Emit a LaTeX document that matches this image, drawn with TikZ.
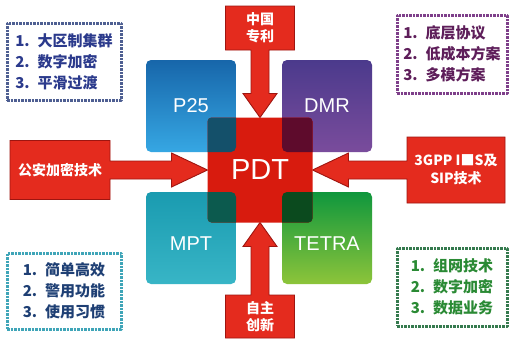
\documentclass[tikz,border=0pt]{standalone}
\usepackage{fontspec}
\setmainfont{Liberation Sans}
\newfontfamily\cjk{Noto Sans CJK SC}
\usepackage{xcolor}
\usetikzlibrary{calc}
\definecolor{ptop}{HTML}{1766AA}
\definecolor{pbot}{HTML}{36A7E3}
\definecolor{dtop}{HTML}{4B3A8C}
\definecolor{dbot}{HTML}{7A4C9C}
\definecolor{mtop}{HTML}{1A9BB0}
\definecolor{mbot}{HTML}{38B5C6}
\definecolor{ttop}{HTML}{0F973D}
\definecolor{tbot}{HTML}{8DC43A}
\definecolor{pdtred}{HTML}{D81B0E}
\definecolor{ovp}{HTML}{14506A}
\definecolor{ovd}{HTML}{5E0B2C}
\definecolor{ovm}{HTML}{0C5A4E}
\definecolor{ovt}{HTML}{0B4A1E}
\definecolor{arrowred}{HTML}{E42B1E}
\definecolor{arrowedge}{HTML}{9E1510}
\definecolor{bluetxt}{HTML}{2B3A8C}
\definecolor{bluedot}{HTML}{4E5F92}
\definecolor{purpletxt}{HTML}{5E1E5A}
\definecolor{purpledot}{HTML}{7E3F8A}
\definecolor{tealtxt}{HTML}{1E3F74}
\definecolor{tealdot}{HTML}{3FA5B8}
\definecolor{greentxt}{HTML}{2A8A34}
\definecolor{greendot}{HTML}{357A4E}
\pgfdeclarelayer{back}
\pgfsetlayers{back,main}

\begin{document}
\begin{tikzpicture}[line cap=round,line join=round,x=1pt,y=-1pt,
    sq/.style={rounded corners=5pt,minimum width=90pt,minimum height=92pt,inner sep=0pt,outer sep=0pt,text=white,font=\fontsize{20}{24}\selectfont},
    sqlow/.style={text height=24pt,text depth=0pt},
    pdtbox/.style={rounded corners=4pt,minimum width=105pt,minimum height=105pt,inner sep=0pt,outer sep=0pt,fill=pdtred,text=white,font=\fontsize{29}{34}\selectfont},
    arrowbox/.style={inner sep=0pt,outer sep=0pt,text=white,align=center,font=\cjk\bfseries\fontsize{14}{17}\selectfont},
    blockarrow/.style={fill=arrowred,draw=arrowedge,line width=0.9pt,line join=miter},
    listbox/.style={draw,line width=3pt,line cap=butt,dash pattern=on 2.5pt off 1pt,inner sep=0pt,align=left,font=\cjk\bfseries\fontsize{15}{21}\selectfont}]
    \begin{pgfonlayer}{back}
        \fill [white] (0,0) rectangle (510,340);
    \end{pgfonlayer}
    \useasboundingbox (0,0) rectangle (510,340);
    \node [sq,top color=ptop,bottom color=pbot] (p25) at (191,106) {P25};
    \node [sq,top color=dtop,bottom color=dbot] (dmr) at (327,106) {DMR};
    \node [sq,sqlow,top color=mtop,bottom color=mbot] (mpt) at (191,238) {MPT};
    \node [sq,sqlow,top color=ttop,bottom color=tbot] (tetra) at (327,238) {TETRA};
    \node [pdtbox] (pdt) at (260,170) {PDT};
    \begin{scope}
        \clip [rounded corners=4pt] (pdt.south west) rectangle (pdt.north east);
        \fill [ovp,rounded corners=5pt] (p25.south west) rectangle (p25.north east);
        \fill [ovd,rounded corners=5pt] (dmr.south west) rectangle (dmr.north east);
        \fill [ovm,rounded corners=5pt] (mpt.south west) rectangle (mpt.north east);
        \fill [ovt,rounded corners=5pt] (tetra.south west) rectangle (tetra.north east);
    \end{scope}
    \node [arrowbox,minimum width=69pt,minimum height=44pt] (cn) at (260,28) {中国\\专利};
    \node [arrowbox,minimum width=69pt,minimum height=43pt] (zz) at (260,316.5) {自主\\创新};
    \node [arrowbox,minimum width=100pt,minimum height=59pt] (ga) at (60,170) {公安加密技术};
    \node [arrowbox,minimum width=98pt,minimum height=66pt,font=\cjk\bfseries\fontsize{14}{18}\selectfont] (sip) at (456,170) {3GPP I■S及\\SIP技术};
    \begin{pgfonlayer}{back}
        \draw [blockarrow] (cn.north west) -- (cn.north east) -- (cn.south east) -- ($(cn.south)+(9,0)$) -- ($(pdt.north)+(9,-24)$) -- ($(pdt.north)+(17,-24)$) -- (pdt.north) -- ($(pdt.north)+(-17,-24)$) -- ($(pdt.north)+(-9,-24)$) -- ($(cn.south)+(-9,0)$) -- (cn.south west) -- cycle;
        \draw [blockarrow] (zz.south west) -- (zz.south east) -- (zz.north east) -- ($(zz.north)+(9,0)$) -- ($(pdt.south)+(9,24)$) -- ($(pdt.south)+(17,24)$) -- (pdt.south) -- ($(pdt.south)+(-17,24)$) -- ($(pdt.south)+(-9,24)$) -- ($(zz.north)+(-9,0)$) -- (zz.north west) -- cycle;
        \draw [blockarrow] (ga.north west) -- (ga.north east) -- ($(ga.east)+(0,-9)$) -- ($(pdt.west)+(-36,-9)$) -- ($(pdt.west)+(-36,-17)$) -- (pdt.west) -- ($(pdt.west)+(-36,17)$) -- ($(pdt.west)+(-36,9)$) -- ($(ga.east)+(0,9)$) -- (ga.south east) -- (ga.south west) -- cycle;
        \draw [blockarrow] (sip.north east) -- (sip.north west) -- ($(sip.west)+(0,-9)$) -- ($(pdt.east)+(36,-9)$) -- ($(pdt.east)+(36,-17)$) -- (pdt.east) -- ($(pdt.east)+(36,17)$) -- ($(pdt.east)+(36,9)$) -- ($(sip.west)+(0,9)$) -- (sip.south west) -- (sip.south east) -- cycle;
    \end{pgfonlayer}
    \node [listbox,draw=bluedot,text=bluetxt,minimum width=114pt,minimum height=77pt] (daqu) at (64,61.5) {1.\hspace{8pt}大区制集群\\2.\hspace{8pt}数字加密\\3.\hspace{8pt}平滑过渡};
    \node [listbox,draw=purpledot,text=purpletxt,minimum width=110pt,minimum height=78pt] (diceng) at (452,54) {1.\hspace{8pt}底层协议\\2.\hspace{8pt}低成本方案\\3.\hspace{8pt}多模方案};
    \node [listbox,draw=tealdot,text=tealtxt,minimum width=114pt,minimum height=76pt] (jiandan) at (64,291) {1.\hspace{8pt}简单高效\\2.\hspace{8pt}警用功能\\3.\hspace{8pt}使用习惯};
    \node [listbox,draw=greendot,text=greentxt,minimum width=110pt,minimum height=78pt] (zuwang) at (452,287) {1.\hspace{8pt}组网技术\\2.\hspace{8pt}数字加密\\3.\hspace{8pt}数据业务};
\end{tikzpicture}
\end{document}
